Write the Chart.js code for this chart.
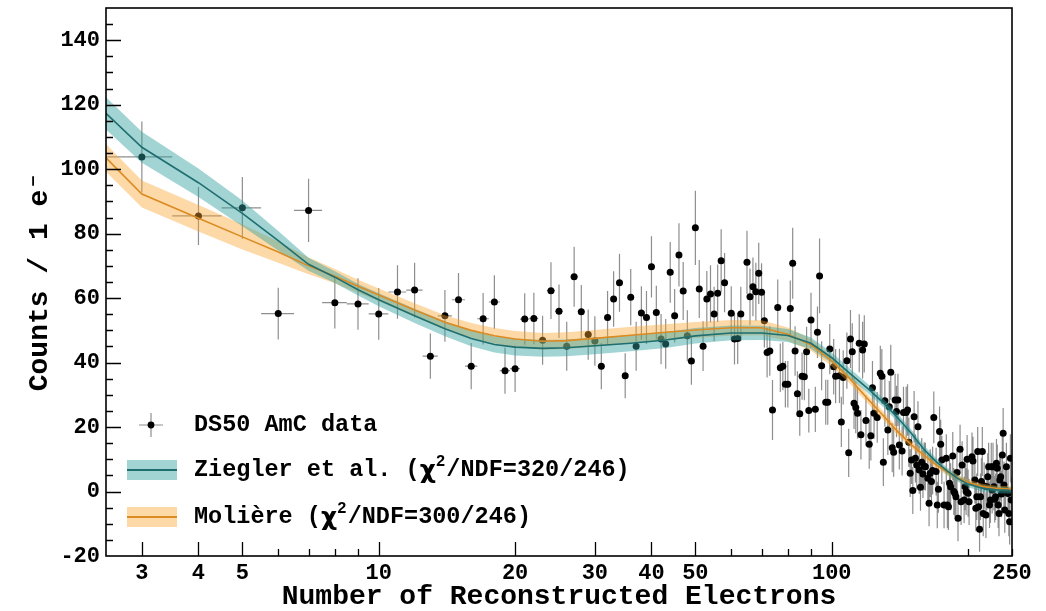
<!DOCTYPE html>
<html><head><meta charset="utf-8">
<script src="https://cdn.jsdelivr.net/npm/chart.js@4.4.1/dist/chart.umd.min.js"></script>
<style>html,body{margin:0;padding:0;background:#fff}canvas{display:block}</style>
</head><body>
<canvas id="c" width="1046" height="611"></canvas>
<script>
// ---------- DS50 AmC data (bin centre, counts, vertical error) ----------
const dataX = [3,4,5,6,7,8,9,10,11,12,13,14,15,16,17,18,19,20,21,22,23,24,25,26,27,28,29,30,31,32,33,34,35,36,37,38,39,40,41,42,43,44,45,46,47,48,49,50,51,52,53,54,55,56,57,58,60,61,62,63,65,66,67,68,69,70,71,72,73,74,76,77,78,79,80,81,82,83,84,85,86,87,88,89,90,92,93,94,95,97,98,99,
101,102,104,105,106,108,109,110,111,112,113,114,115,116,117,118,119,121,122,123,124,126,128,129,130,131,133,134,135,136,137,138,139,140,141,143,144,146,147,148,149,150,151,152,153,154,155,156,157,158,159,160,161,163,164,165,166,167,168,170,171,172,173,174,175,177,179,180,181,182,183,185,186,187,188,189,190,192,193,194,196,197,198,199,200,201,204,205,207,208,209,210,211,212,213,214,215,216,217,219,220,221,222,223,224,225,226,227,228,229,230,231,232,233,234,235,236,237,238,239,240,241,242,243,245,246,247,248,249];
const dataY = [103.8,85.5,88.0,55.2,87.2,58.6,58.2,55.1,61.9,62.5,42.0,54.5,59.5,38.9,53.6,58.8,37.5,38.1,53.5,53.7,46.9,62.3,55.9,45.1,66.6,55.8,48.7,46.7,38.9,54.0,59.7,64.8,35.9,60.3,45.1,55.4,54.0,69.7,55.5,47.3,45.8,68.0,54.5,73.4,62.2,48.3,40.5,81.8,62.8,45.1,59.7,61.3,55.1,61.5,71.6,64.8,55.3,47.3,47.5,55.1,71.1,60.4,63.5,62.0,67.7,61.8,53.0,43.1,43.6,25.3,57.1,38.4,38.9,33.3,33.3,56.8,70.8,43.6,30.3,24.1,35.8,35.6,43.4,25.1,53.2,25.5,49.4,66.9,39.0,27.7,27.7,44.2,
38.7,35.8,35.9,21.6,35.4,40.6,12.0,47.3,43.4,27.4,26.1,24.3,46.0,17.6,43.9,45.8,22.0,14.7,17.3,32.2,24.3,23.0,36.7,35.8,9.1,28.2,19.1,26.3,37.0,13.6,12.2,28.4,24.8,28.4,14.4,12.6,24.5,24.5,25.3,15.3,5.7,9.8,0.3,23.2,10.3,8.2,20.1,6.7,1.3,9.1,5.4,7.9,7.7,4.1,-3.6,5.7,3.1,6.5,23.0,6.2,-4.2,0.7,18.6,14.7,9.8,-4.2,10.3,-4.2,-4.7,2.6,1.5,11.0,0.0,-0.5,-1.6,5.9,-8.3,13.1,-3.2,8.2,-2.6,1.5,0.0,10.0,-0.5,-3.2,10.8,9.5,3.6,-5.2,-1.6,12.4,-4.7,-11.7,-1.6,3.1,12.4,-6.8,1.7,-7.3,1.5,4.6,7.7,-4.2,-2.6,7.7,0.5,7.7,1.5,-2.4,-1.6,8.8,7.2,-4.2,-6.8,3.6,4.6,-0.8,11.3,18.1,2.0,-5.7,0.5,7.7,-0.6,-6.8,-9.4,10.3,-2.6];
const dataErrY = [11.0,9.0,9.6,8.0,9.8,8.0,8.0,8.0,8.3,8.5,7.0,8.0,8.3,7.2,8.0,8.3,7.2,7.2,8.0,8.0,7.6,8.8,8.3,7.6,9.3,8.3,7.8,7.7,7.2,8.2,8.6,9.0,7.0,8.7,7.6,8.3,8.2,9.5,8.3,7.8,7.7,9.4,8.3,9.8,9.0,7.9,7.4,11.5,9.0,7.7,8.7,8.9,8.4,8.9,9.8,9.2,8.4,7.9,7.9,8.4,9.8,8.8,9.1,9.0,9.5,9.0,8.3,7.7,7.7,9.3,8.7,7.5,7.5,7.2,7.2,8.7,11.0,7.7,7.0,6.8,7.3,7.3,7.7,6.8,8.5,7.0,8.0,11.6,7.6,7.0,7.0,7.8,
8.6,8.4,8.4,7.8,8.4,8.7,7.5,9.0,8.8,8.0,8.0,7.9,9.0,7.7,8.8,8.9,7.8,7.6,7.7,8.3,7.9,7.9,8.5,8.4,7.4,8.1,7.8,8.0,8.5,7.6,7.6,8.1,8.0,8.1,7.6,7.6,8.0,8.0,8.0,7.7,7.4,7.5,7.3,8.0,7.5,7.5,7.9,7.4,7.3,7.5,7.4,7.4,7.4,7.4,7.2,7.4,7.3,7.4,8.0,7.4,7.2,7.3,7.8,7.6,7.5,7.2,7.5,7.2,7.2,7.3,7.3,7.5,7.3,7.3,7.2,7.4,7.1,7.6,7.2,7.4,7.2,7.3,7.3,7.5,7.3,7.2,7.5,7.5,7.3,7.1,7.2,7.6,7.1,7.0,7.2,7.3,7.6,7.1,7.3,7.1,7.3,7.3,7.4,7.1,7.2,7.4,7.3,7.4,7.3,7.2,7.2,7.5,7.4,7.1,7.1,7.3,7.3,7.2,7.5,7.8,7.3,7.1,7.3,7.4,7.2,7.1,7.0,7.5,7.2];
const binHalfWidth = 0.5;

// ---------- fitted models (centre value and band half-width) ----------
const modelX     = [2.5,3,4,5,6,7,8,9,10,12,14,16,18,20,23,26,30,36,43,50,60,70,80,90,100,110,120,130,140,150,160,170,180,190,200,215,230,250];
const zieglerY   = [117.3,106.8,95.8,86.3,77.8,70.5,66.5,62.6,59.5,54.5,50.5,47.5,45.6,44.8,44.4,44.6,45.2,46.0,47.0,48.3,49.2,49.2,48.4,46.0,41.5,36.5,32.0,27.5,22.8,18.0,13.0,9.3,6.3,4.0,2.3,1.0,0.5,0.3];
const zieglerErr = [5.0,4.8,4.4,4.0,3.0,2.0,1.8,1.8,2.0,2.2,2.3,2.4,2.5,2.6,2.6,2.6,2.6,2.5,2.5,2.4,2.3,2.2,2.0,1.8,1.6,1.5,1.4,1.3,1.3,1.2,1.2,1.1,1.1,1.0,1.0,1.0,1.0,1.0];
const moliereY   = [103.5,92.3,84.8,79.0,74.3,70.0,66.8,63.7,61.0,56.3,52.5,50.0,48.3,47.3,46.6,46.8,47.5,48.5,49.4,50.1,50.8,50.8,48.8,45.5,40.5,34.8,28.8,23.5,18.5,14.5,11.2,8.3,6.0,4.2,2.8,1.6,1.0,0.8];
const moliereErr = [4.3,4.2,4.1,3.9,3.3,2.6,2.2,2.0,2.0,2.1,2.2,2.3,2.4,2.5,2.6,2.6,2.6,2.6,2.5,2.5,2.4,2.3,2.1,1.8,1.6,1.5,1.4,1.3,1.2,1.1,1.1,1.0,1.0,0.9,0.9,0.8,0.8,0.8];

// ---------- axes ----------
const xTickValues = [3,4,5,6,7,8,9,10,20,30,40,50,60,70,80,90,100,200,250];
const xTickLabels = [3,4,5,10,20,30,40,50,100,250];
const yTickLabels = [-20,0,20,40,60,80,100,120,140];
const yMinorStep = 5;

const legendLabels = ['DS50 AmC data', 'Ziegler et al. (', 'Molière ('];
const legendChi = ['320/246', '300/246'];

const MONO = '"Liberation Mono", "DejaVu Sans Mono", monospace';
const TEAL_LINE = '#1f6e70', TEAL_BAND = 'rgba(50,160,160,0.45)';
const ORNG_LINE = '#dc8a22', ORNG_BAND = 'rgba(248,165,45,0.42)';

const pts = dataX.map((x, i) => ({x, y: dataY[i]}));
const curve = (ys, es, s) => modelX.map((x, i) => ({x, y: ys[i] + s * (es ? es[i] : 0)}));

const errorBars = {
  id: 'errorBars',
  beforeDatasetsDraw(chart) {
    const {ctx, chartArea: a, scales: {x, y}} = chart;
    ctx.save();
    ctx.beginPath(); ctx.rect(a.left, a.top, a.right - a.left, a.bottom - a.top); ctx.clip();
    ctx.strokeStyle = '#8e8e8e'; ctx.lineWidth = 1.2;
    ctx.beginPath();
    dataX.forEach((xv, i) => {
      const px = x.getPixelForValue(xv), py = y.getPixelForValue(dataY[i]);
      ctx.moveTo(px, y.getPixelForValue(dataY[i] + dataErrY[i]));
      ctx.lineTo(px, y.getPixelForValue(dataY[i] - dataErrY[i]));
      ctx.moveTo(x.getPixelForValue(xv - binHalfWidth), py);
      ctx.lineTo(x.getPixelForValue(xv + binHalfWidth), py);
    });
    ctx.stroke();
    ctx.restore();
  }
};

const frameTicks = {
  id: 'frameTicks',
  afterDatasetsDraw(chart) {
    const {ctx, chartArea: a, scales: {x, y}} = chart;
    ctx.save();
    ctx.strokeStyle = '#000';
    ctx.lineWidth = 1.3;
    ctx.beginPath();
    for (let v = -20 + yMinorStep; v < 150; v += yMinorStep) {
      const py = Math.round(y.getPixelForValue(v)) + 0.5;
      const len = yTickLabels.includes(v) ? 15 : 7;
      ctx.moveTo(a.left, py); ctx.lineTo(a.left + len, py);
    }
    xTickValues.forEach(v => {
      const px = Math.round(x.getPixelForValue(v)) + 0.5;
      const len = xTickLabels.includes(v) && v !== 250 ? 14 : 7;
      ctx.moveTo(px, a.bottom); ctx.lineTo(px, a.bottom - len);
    });
    ctx.stroke();
    ctx.lineWidth = 1.6;
    ctx.strokeRect(a.left, a.top, a.right - a.left, a.bottom - a.top);
    ctx.restore();
  }
};

const legendDraw = {
  id: 'legendDraw',
  afterDraw(chart) {
    const {ctx} = chart;
    ctx.save();
    const tx = 194;
    const rows = [425, 470, 517];
    ctx.strokeStyle = '#8e8e8e'; ctx.lineWidth = 1.2;
    ctx.beginPath();
    ctx.moveTo(139, rows[0]); ctx.lineTo(163, rows[0]);
    ctx.moveTo(151, rows[0] - 12); ctx.lineTo(151, rows[0] + 12);
    ctx.stroke();
    ctx.fillStyle = '#000';
    ctx.beginPath(); ctx.arc(151, rows[0], 3.4, 0, Math.PI * 2); ctx.fill();
    [[rows[1], TEAL_BAND, TEAL_LINE], [rows[2], ORNG_BAND, ORNG_LINE]].forEach(([yy, band, line]) => {
      ctx.fillStyle = band; ctx.fillRect(127, yy - 10, 50, 20);
      ctx.strokeStyle = line; ctx.lineWidth = 1.8;
      ctx.beginPath(); ctx.moveTo(127, yy); ctx.lineTo(177, yy); ctx.stroke();
    });
    ctx.fillStyle = '#000';
    ctx.textBaseline = 'middle';
    const F = 'bold 23.5px ' + MONO;
    ctx.font = F;
    ctx.fillText(legendLabels[0], tx, rows[0]);
    [1, 2].forEach(k => {
      const yy = rows[k];
      let cx = tx;
      ctx.font = F;
      ctx.fillText(legendLabels[k], cx, yy);
      cx += ctx.measureText(legendLabels[k]).width;
      ctx.font = 'bold 25px "DejaVu Sans"';
      ctx.fillText('χ', cx, yy + 1);
      cx += ctx.measureText('χ').width;
      ctx.font = 'bold 16px ' + MONO;
      ctx.fillText('2', cx, yy - 8);
      cx += ctx.measureText('2').width + 1;
      ctx.font = F;
      ctx.fillText('/NDF=' + legendChi[k - 1] + ')', cx, yy);
    });
    ctx.restore();
  }
};

new Chart(document.getElementById('c'), {
  type: 'scatter',
  data: {
    datasets: [
      {label: 'DS50 AmC data', data: pts, order: 10, pointRadius: 3.5, pointHoverRadius: 3.5,
       pointBackgroundColor: '#000', pointBorderWidth: 0, showLine: false},
      {type: 'line', label: 'Molière upper', data: curve(moliereY, moliereErr, 1), order: 6,
       borderWidth: 0, pointRadius: 0, fill: '+1', backgroundColor: ORNG_BAND, tension: 0},
      {type: 'line', label: 'Molière lower', data: curve(moliereY, moliereErr, -1), order: 6,
       borderWidth: 0, pointRadius: 0, fill: false, tension: 0},
      {type: 'line', label: 'Ziegler upper', data: curve(zieglerY, zieglerErr, 1), order: 5,
       borderWidth: 0, pointRadius: 0, fill: '+1', backgroundColor: TEAL_BAND, tension: 0},
      {type: 'line', label: 'Ziegler lower', data: curve(zieglerY, zieglerErr, -1), order: 5,
       borderWidth: 0, pointRadius: 0, fill: false, tension: 0},
      {type: 'line', label: 'Molière', data: curve(moliereY, null, 0), order: 2,
       borderColor: ORNG_LINE, borderWidth: 1.6, pointRadius: 0, fill: false, tension: 0},
      {type: 'line', label: 'Ziegler et al.', data: curve(zieglerY, null, 0), order: 1,
       borderColor: TEAL_LINE, borderWidth: 1.6, pointRadius: 0, fill: false, tension: 0}
    ]
  },
  options: {
    responsive: false,
    animation: false,
    events: [],
    layout: {padding: {left: 0, right: 34, top: 8, bottom: 0}},
    plugins: {legend: {display: false}, tooltip: {enabled: false}},
    scales: {
      x: {
        type: 'logarithmic', min: 2.5, max: 250,
        afterBuildTicks: s => { s.ticks = xTickValues.map(v => ({value: v})); },
        afterFit: s => { s.height = 55; s.paddingLeft = 0; s.paddingRight = 0; },
        grid: {display: false, drawTicks: false},
        border: {display: false},
        ticks: {
          autoSkip: false, maxRotation: 0, padding: 4, color: '#000',
          font: {family: MONO, size: 22, weight: 'bold'},
          callback: v => xTickLabels.includes(v) ? String(v) : ''
        },
        title: {display: true, text: 'Number of Reconstructed Electrons', color: '#000',
          font: {family: MONO, size: 28, weight: 'bold', lineHeight: 1}, padding: {top: 0, bottom: 0}}
      },
      y: {
        type: 'linear', min: -20, max: 150,
        afterBuildTicks: s => { s.ticks = yTickLabels.map(v => ({value: v})); },
        afterFit: s => { s.width = 106; s.paddingTop = 0; s.paddingBottom = 0; },
        grid: {display: false, drawTicks: false},
        border: {display: false},
        ticks: {padding: 6, color: '#000', font: {family: MONO, size: 22, weight: 'bold'}},
        title: {display: true, text: 'Counts / 1 e⁻', color: '#000',
          font: {family: MONO, size: 28, weight: 'bold', lineHeight: 1}, padding: {top: 26, bottom: 0}}
      }
    }
  },
  plugins: [errorBars, frameTicks, legendDraw]
});
</script>
</body></html>
